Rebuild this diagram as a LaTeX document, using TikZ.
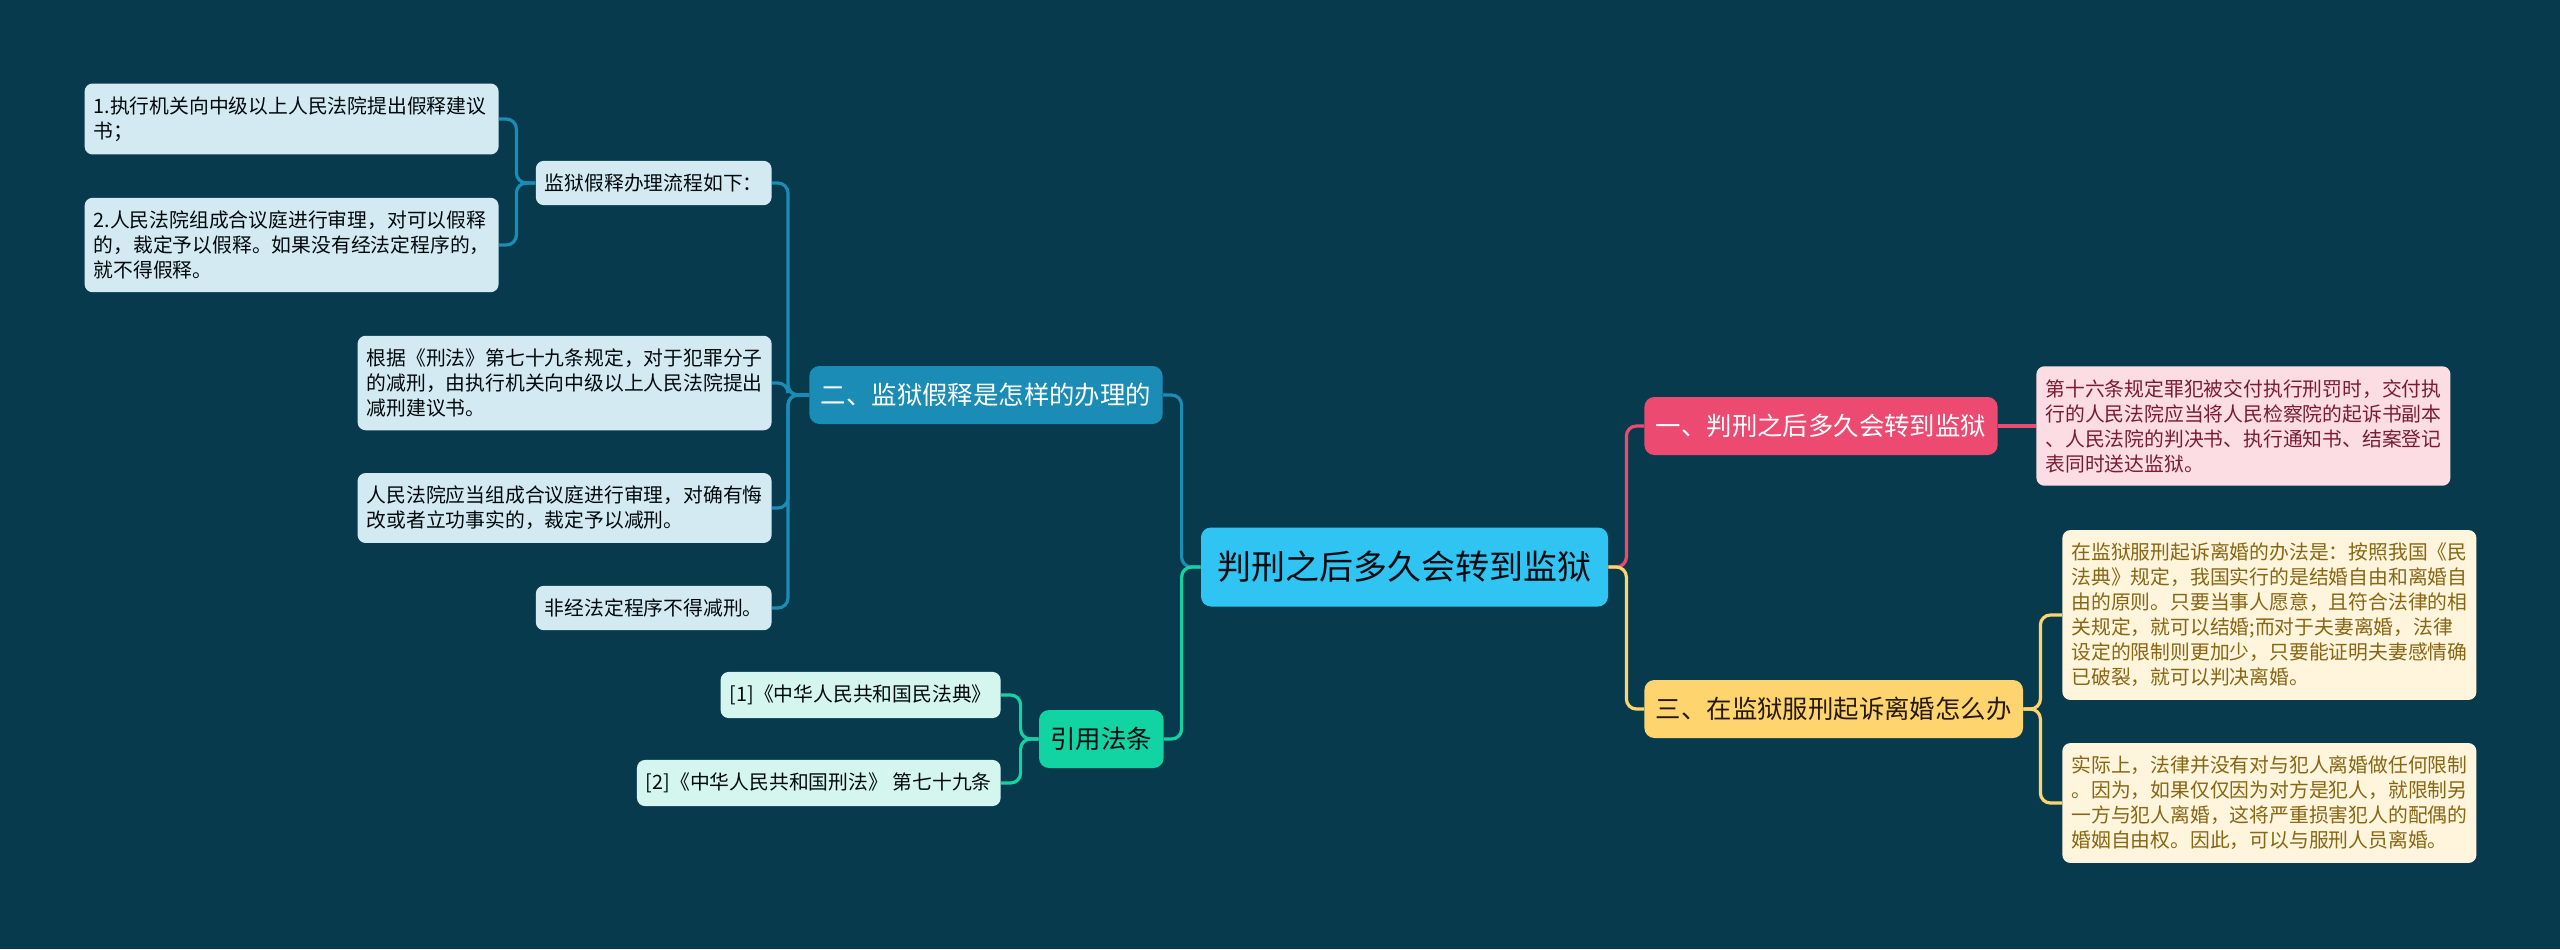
\documentclass[tikz,border=0pt]{standalone}
\usepackage{fontspec}
\setmainfont{Noto Sans CJK SC}

\definecolor{bg}{HTML}{083A4E}
\definecolor{rootc}{HTML}{30C4F2}
\definecolor{bluec}{HTML}{1A8CB6}
\definecolor{bluel}{HTML}{D4EAF2}
\definecolor{pinkc}{HTML}{EC4A70}
\definecolor{pinkl}{HTML}{FCDDE4}
\definecolor{pinkt}{HTML}{7A1B36}
\definecolor{yelc}{HTML}{FED46E}
\definecolor{yell}{HTML}{FFF5DD}
\definecolor{yelt}{HTML}{876614}
\definecolor{grnc}{HTML}{12D3A2}
\definecolor{grnl}{HTML}{D5F6EE}

\tikzset{
  box/.style={rounded corners=4pt, inner xsep=4.5pt, inner ysep=6.5pt,
    font=\fontsize{9.9}{12.5}\selectfont, align=left},
  leaf/.style={box, text width=198pt},
  topic/.style={rounded corners=5pt, inner xsep=5.75pt, minimum height=29pt,
    font=\fontsize{12.7}{15}\selectfont},
  link/.style={line width=1.6pt, rounded corners=5pt},
}

\begin{document}
\begin{tikzpicture}[x=0.5pt,y=-0.5pt]

\fill[bg] (0,0) rectangle (2560,949);

% centre
\node[rounded corners=5pt, fill=rootc, text=black!80!bg, inner xsep=8.25pt,
  minimum height=39.5pt, font=\fontsize{17}{20}\selectfont] (root) at (1404.5,567) {判刑之后多久会转到监狱};

% left: 二
\node[topic, fill=bluec, text=white, anchor=east] (b2) at (1163,395) {二、监狱假释是怎样的办理的};
\node[box, fill=bluel, text=black!85!bg, anchor=east] (s1) at (772,183) {监狱假释办理流程如下：};
\node[leaf, fill=bluel, text=black!85!bg, anchor=east] (s11) at (499,119)
  {1.执行机关向中级以上人民法院提出假释建议\\书；};
\node[leaf, fill=bluel, text=black!85!bg, anchor=east] (s12) at (499,245)
  {2.人民法院组成合议庭进行审理，对可以假释\\的，裁定予以假释。如果没有经法定程序的，\\就不得假释。};
\node[leaf, fill=bluel, text=black!85!bg, anchor=east] (s2) at (772,383)
  {根据《刑法》第七十九条规定，对于犯罪分子\\的减刑，由执行机关向中级以上人民法院提出\\减刑建议书。};
\node[leaf, fill=bluel, text=black!85!bg, anchor=east] (s3) at (772,508)
  {人民法院应当组成合议庭进行审理，对确有悔\\改或者立功事实的，裁定予以减刑。};
\node[box, fill=bluel, text=black!85!bg, anchor=east] (s4) at (772,608) {非经法定程序不得减刑。};

% left: 引用法条
\node[topic, fill=grnc, text=black!80!bg, anchor=east] (b4) at (1164,739) {引用法条};
\node[box, fill=grnl, text=black!85!bg, anchor=east] (r1) at (1001,695) {[1]《中华人民共和国民法典》};
\node[box, fill=grnl, text=black!85!bg, anchor=east] (r2) at (1001,783) {[2]《中华人民共和国刑法》 第七十九条};

% right: 一
\node[topic, fill=pinkc, text=white, anchor=west] (b1) at (1644,426) {一、判刑之后多久会转到监狱};
\node[leaf, fill=pinkl, text=pinkt, anchor=west] (p1) at (2036,426)
  {第十六条规定罪犯被交付执行刑罚时，交付执\\行的人民法院应当将人民检察院的起诉书副本\\、人民法院的判决书、执行通知书、结案登记\\表同时送达监狱。};

% right: 三
\node[topic, fill=yelc, text=black!80!brown, anchor=west] (b3) at (1644,709) {三、在监狱服刑起诉离婚怎么办};
\node[leaf, fill=yell, text=yelt, anchor=west] (y1) at (2062,615)
  {在监狱服刑起诉离婚的办法是：按照我国《民\\法典》规定，我国实行的是结婚自由和离婚自\\由的原则。只要当事人愿意，且符合法律的相\\关规定，就可以结婚;而对于夫妻离婚，法律\\设定的限制则更加少，只要能证明夫妻感情确\\已破裂，就可以判决离婚。};
\node[leaf, fill=yell, text=yelt, anchor=west] (y2) at (2062,803)
  {实际上，法律并没有对与犯人离婚做任何限制\\。因为，如果仅仅因为对方是犯人，就限制另\\一方与犯人离婚，这将严重损害犯人的配偶的\\婚姻自由权。因此，可以与服刑人员离婚。};

% links
\draw[link, bluec] (root.west) -- ++(-19,0) |- (b2.east);
\draw[link, grnc] (root.west) -- ++(-19,0) |- (b4.east);
\draw[link, pinkc] (root.east) -- ++(18,0) |- (b1.west);
\draw[link, yelc] (root.east) -- ++(18,0) |- (b3.west);

\foreach \t in {s1,s2,s3,s4}
  \draw[link, bluec] (b2.west) -- ++(-21,0) |- (\t.east);
\foreach \t in {s11,s12}
  \draw[link, bluec] (s1.west) -- ++(-19,0) |- (\t.east);
\foreach \t in {r1,r2}
  \draw[link, grnc] (b4.west) -- ++(-18,0) |- (\t.east);
\draw[link, pinkc] (b1.east) -- (p1.west);
\foreach \t in {y1,y2}
  \draw[link, yelc] (b3.east) -- ++(17,0) |- (\t.west);

\end{tikzpicture}
\end{document}
